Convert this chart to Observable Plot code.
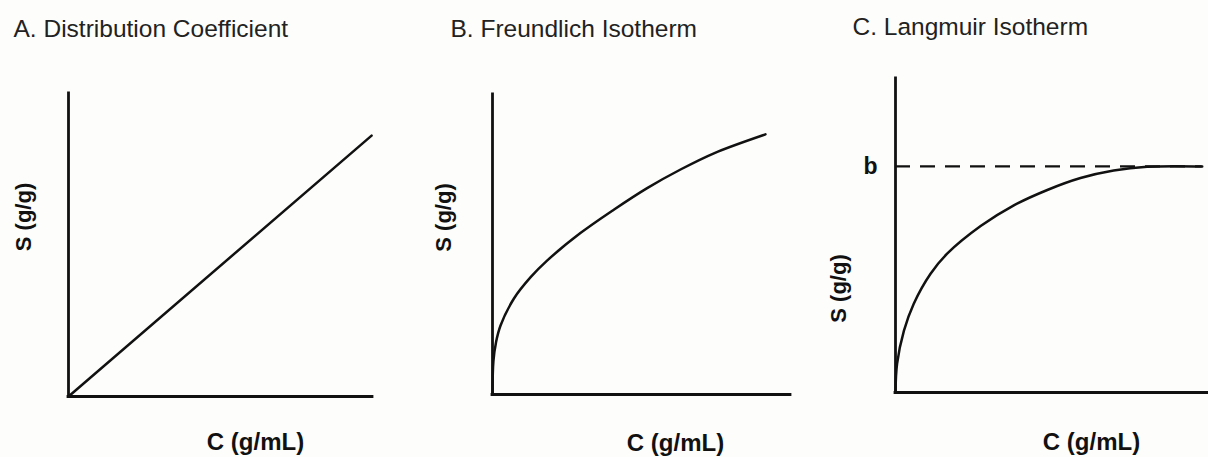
<!DOCTYPE html>
<html><head><meta charset="utf-8">
<script src="https://cdn.jsdelivr.net/npm/d3@7"></script>
<script src="https://cdn.jsdelivr.net/npm/@observablehq/plot@0.6"></script>
<style>
body{margin:0;background:#fdfdfb;}
#wrap{position:relative;width:1208px;height:457px;overflow:hidden;background:#fdfdfb;}
#wrap svg{position:absolute;top:0;background:transparent;overflow:visible;}
</style></head><body><div id="wrap"></div>
<script>
// ---- data ----
const panelTitles = ["A. Distribution Coefficient", "B. Freundlich Isotherm", "C. Langmuir Isotherm"];
const xLabel = "C (g/mL)";
const yLabel = "S (g/g)";
const bLabel = "b";

// A: linear distribution coefficient (endpoints)
const linearC = [0, 99.7];
const linearS = [0, 86.1];

// B: Freundlich curve
const freundlichC = [0, 0.3, 1.2, 2.7, 7.2, 12.8, 18.4, 29.5, 40.7, 51.9, 63.1, 74.3, 91.6];
const freundlichS = [0, 11.0, 17.5, 23.0, 32.0, 39.1, 44.7, 53.8, 61.6, 68.8, 75.0, 80.4, 86.7];

// C: Langmuir curve
const langmuirC = [0, 0.5, 2.7, 5.8, 11.2, 16.5, 27.2, 37.8, 48.5, 59.1, 69.7, 80.4, 98];
const langmuirS = [0, 9.1, 19.7, 28.2, 37.8, 44.2, 53.0, 59.6, 64.5, 68.3, 70.7, 71.9, 72];
const bLevel = 72;
const bExtent = [0, 98];

const toRows = (xs, ys) => xs.map((c, i) => ({c, s: ys[i]}));

const FONT = "'Liberation Sans', Arial, sans-serif";
const INK = "#111";

function panel({left, width, margins, rows, curve, title, titleDx, titleDy, yDx, yDy, xDx, xDy, extra = []}) {
  const [mt, mr, mb, ml] = margins;
  const svg = Plot.plot({
    width, height: 457,
    marginTop: mt, marginRight: mr, marginBottom: mb, marginLeft: ml,
    x: {domain: [0, 100], axis: null},
    y: {domain: [0, 100], axis: null},
    style: {background: "transparent", fontFamily: FONT, overflow: "visible"},
    marks: [
      ...extra,
      Plot.ruleX([0], {stroke: INK, strokeWidth: 2.8, strokeLinecap: "square"}),
      Plot.ruleY([0], {stroke: INK, strokeWidth: 2.8, strokeLinecap: "square"}),
      Plot.line(rows, {x: "c", y: "s", curve, stroke: INK, strokeWidth: 2.5}),
      Plot.text([title], {text: d => d, frameAnchor: "top-left", textAnchor: "start", lineAnchor: "bottom",
        dx: titleDx, dy: titleDy, fontSize: 24.5, fill: "#222", fontWeight: 400}),
      Plot.text([yLabel], {text: d => d, frameAnchor: "left", rotate: -90, textAnchor: "middle", lineAnchor: "middle",
        dx: yDx, dy: yDy, fontSize: 22, fontWeight: 700, fill: INK}),
      Plot.text([xLabel], {text: d => d, frameAnchor: "bottom", textAnchor: "middle", lineAnchor: "middle",
        dx: xDx, dy: xDy, fontSize: 24, fontWeight: 700, fill: INK})
    ]
  });
  svg.style.left = left + "px";
  svg.style.maxWidth = "none";
  document.getElementById("wrap").appendChild(svg);
}

panel({left: 0, width: 410, margins: [93, 38, 61, 68], rows: toRows(linearC, linearS), curve: "linear",
  title: panelTitles[0], titleDx: -55, titleDy: -56.3, yDx: -45, yDy: -28, xDx: 35, xDy: 46});

panel({left: 420, width: 380, margins: [94, 10, 63, 72], rows: toRows(freundlichC, freundlichS), curve: "catmull-rom",
  title: panelTitles[1], titleDx: -42, titleDy: -57.3, yDx: -49, yDy: -27, xDx: 34, xDy: 48.5});

panel({left: 830, width: 378, margins: [78, 0, 65, 65], rows: toRows(langmuirC, langmuirS), curve: "catmull-rom",
  title: panelTitles[2], titleDx: -43, titleDy: -43.5, yDx: -57, yDy: 53, xDx: 39.5, xDy: 50,
  extra: [
    Plot.ruleY([bLevel], {x1: bExtent[0], x2: bExtent[1], stroke: INK, strokeWidth: 2.4, strokeDasharray: "15,10"}),
    Plot.text([bLabel], {text: d => d, y: bLevel, frameAnchor: "left", textAnchor: "middle", lineAnchor: "middle",
      dx: -25, fontSize: 23, fontWeight: 700, fill: INK})
  ]});
</script>
</body></html>
